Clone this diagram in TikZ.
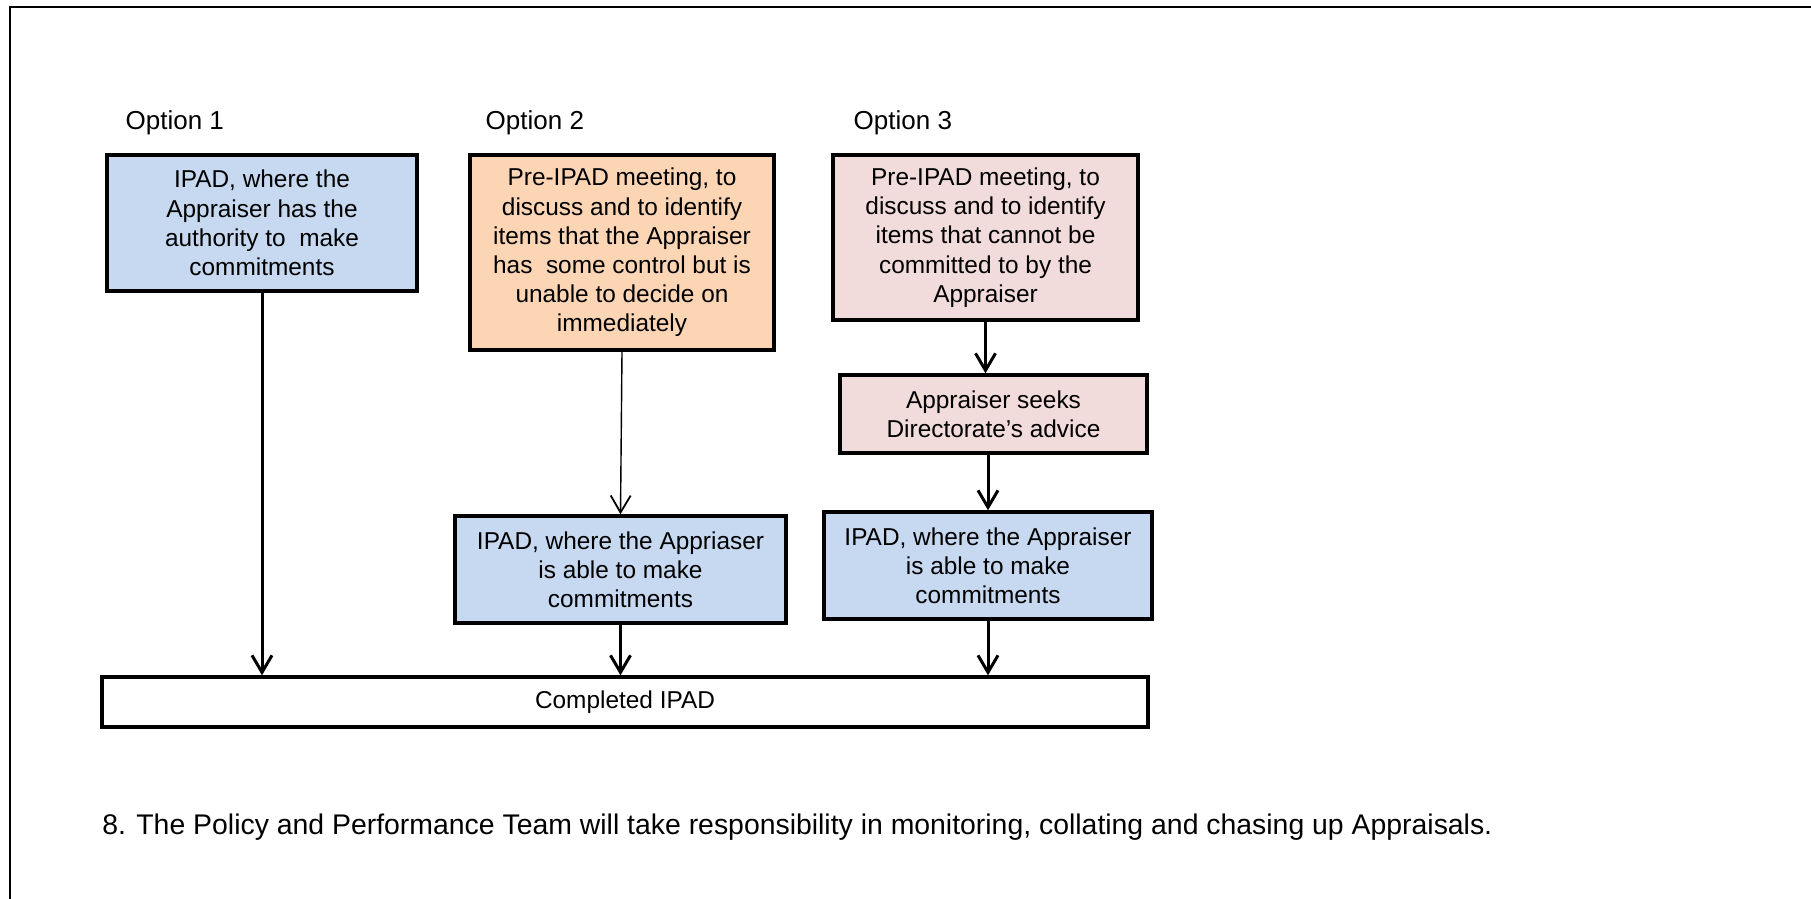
\documentclass[tikz,border=0pt]{standalone}
\usepackage{fontspec}
\setmainfont{Liberation Sans}
\usepackage{xcolor}
\usetikzlibrary{positioning,arrows.meta}
\definecolor{optblue}{HTML}{C6D9F1}
\definecolor{optorange}{HTML}{FCD5B5}
\definecolor{optpink}{HTML}{F2DCDB}

\begin{document}
\begin{tikzpicture}[x=0.5pt, y=-0.5pt,
    stage/.style={draw, line width=1.7pt, align=center, inner sep=0pt, font=\fontsize{12.2}{14.6}\selectfont},
    optlabel/.style={inner sep=0pt, font=\fontsize{13}{15}\selectfont},
    flow/.style={line width=1.5pt, -{Straight Barb[length=8.5pt,width=10pt,line width=1.5pt]}},
    thinflow/.style={line width=0.7pt, -{Straight Barb[length=8.5pt,width=10pt,line width=0.9pt]}}]
		\useasboundingbox (0,0) rectangle (1811,899);
		\draw[line width=1.2pt] (10,899) -- (10,7) -- (1811,7);
		% option 1
		\node[stage, fill=optblue, minimum width=155pt, minimum height=68pt] (opt1) at (262,223) {IPAD, where the\\Appraiser has the\\authority to~ make\\commitments};
		\node[optlabel, above right=9pt and 10pt of opt1.north west] {Option 1};
		% option 2
		\node[stage, fill=optorange, minimum width=152pt, minimum height=97.5pt] (opt2) at (622,252.5) {Pre-IPAD meeting, to\\discuss and to identify\\items that the Appraiser\\has~ some control but is\\unable to decide on\\immediately};
		\node[optlabel, above right=9pt and 8.5pt of opt2.north west] {Option 2};
		\node[stage, fill=optblue, minimum width=165.5pt, minimum height=53.5pt] (opt2b) at (620.5,569.5) {IPAD, where the Appriaser\\is able to make\\commitments};
		% option 3
		\node[stage, fill=optpink, minimum width=152.5pt, minimum height=82.5pt] (opt3) at (985.5,237.5) {Pre-IPAD meeting, to\\discuss and to identify\\items that cannot be\\committed to by the\\Appraiser};
		\node[optlabel, above right=9pt and 11pt of opt3.north west] {Option 3};
		\node[stage, fill=optpink, minimum width=153.5pt, minimum height=39pt] (seek) at (993.5,414) {Appraiser seeks\\Directorate's advice};
		\node[stage, fill=optblue, minimum width=164pt, minimum height=53.5pt] (opt3b) at (988,565.5) {IPAD, where the Appraiser\\is able to make\\commitments};
		% result
		\node[stage, fill=white, minimum width=523pt, minimum height=25pt] (done) at (625,702) {Completed IPAD};
		\node[anchor=west, inner sep=0pt, font=\fontsize{14.2}{17}\selectfont] (note) at (102,827) {\makebox[17pt][l]{8.}The Policy and Performance Team will take responsibility in monitoring, collating and chasing up Appraisals.};
		% connectors
		\draw[flow] (opt1.south) -- (opt1.south |- done.north);
		\draw[thinflow] (opt2.south) -- (opt2b.north);
		\draw[flow] (opt2b.south) -- (opt2b.south |- done.north);
		\draw[flow] (opt3.south) -- (opt3.south |- seek.north);
		\draw[flow] (opt3b.north |- seek.south) -- (opt3b.north);
		\draw[flow] (opt3b.south) -- (opt3b.south |- done.north);
	\end{tikzpicture}
\end{document}
